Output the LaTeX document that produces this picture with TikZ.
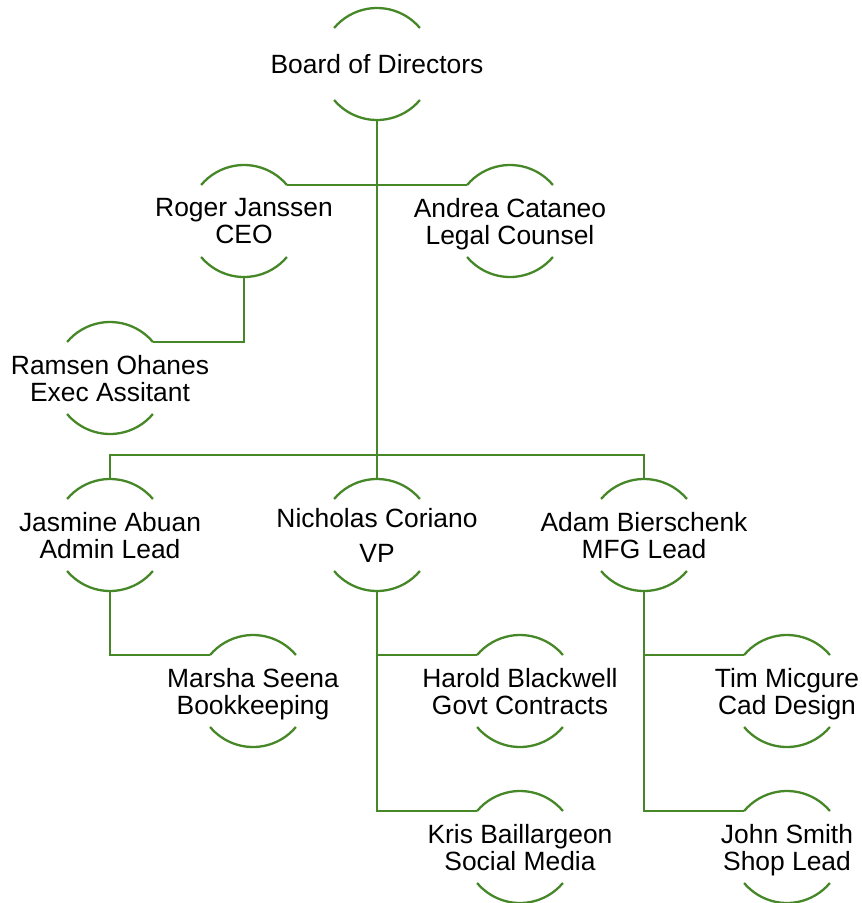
\documentclass[tikz,border=0pt]{standalone}
\usepackage{fontspec}
\setmainfont{Liberation Sans}
\definecolor{orggreen}{RGB}{70,135,40}
\tikzset{
  ring/.style={circle, minimum size=112pt, inner sep=0pt, outer sep=0pt},
  member/.style={inner sep=0pt, align=center, text depth=0pt,
    font=\fontsize{26.4}{27}\selectfont},
  orgline/.style={orggreen, line width=2.3pt}
}
\begin{document}
\begin{tikzpicture}[x=1pt, y=-1pt]
    \useasboundingbox (0,0) rectangle (862,903);

    % Members with their arcs
    \foreach \n/\x/\y/\t in {
        board/377/64/{Board of Directors},
        ceo/244/221/{Roger Janssen\\CEO},
        legal/510/221/{Andrea Cataneo\\Legal Counsel},
        assist/110/378/{Ramsen Ohanes\\Exec Assitant},
        admin/110/535/{Jasmine Abuan\\Admin Lead},
        vp/377/535/{Nicholas Coriano\\[8pt]VP},
        mfg/644/535/{Adam Bierschenk\\MFG Lead},
        books/253/691/{Marsha Seena\\Bookkeeping},
        contracts/520/691/{Harold Blackwell\\Govt Contracts},
        social/520/847/{Kris Baillargeon\\Social Media},
        cad/787/691/{Tim Micgure\\Cad Design},
        shop/787/847/{John Smith\\Shop Lead}}
    {
        \node[ring] (\n) at (\x,\y) {};
        \node[member] (\n-name) at (\n) {\t};
        \draw[orgline] (\n.40) arc[start angle=40, end angle=140, radius=56pt]
                       (\n.220) arc[start angle=220, end angle=320, radius=56pt];
    }

    % Lines
    \coordinate (bus) at (377,455);
    \draw[orgline] (board.south) -- (vp.north);
    \draw[orgline] (ceo.40) -- (legal.140);
    \draw[orgline] (ceo.south) |- (assist.40);
    \draw[orgline] (admin.north) |- (bus) -| (mfg.north);
    \draw[orgline] (admin.south) |- (books.140);
    \draw[orgline] (vp.south) |- (contracts.140);
    \draw[orgline] (vp.south) |- (social.140);
    \draw[orgline] (mfg.south) |- (cad.140);
    \draw[orgline] (mfg.south) |- (shop.140);
\end{tikzpicture}
\end{document}
